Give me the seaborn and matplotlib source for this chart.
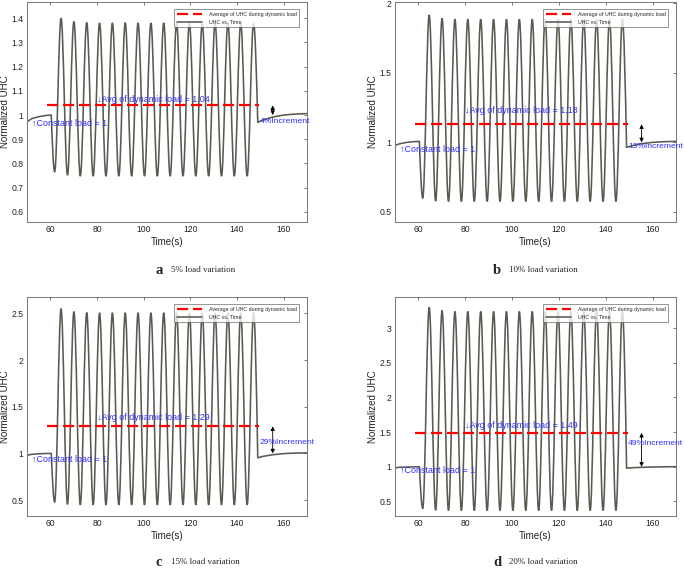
import pandas as pd
import seaborn as sns
import matplotlib.pyplot as plt
from matplotlib.path import Path
from matplotlib.patches import PathPatch
from matplotlib.ticker import FuncFormatter

# valores (UHC normalizado frente al tiempo)
peak_times = [64.6, 70.1, 75.6, 81.1, 86.6, 92.1, 97.6, 103.1, 108.6, 114.1, 119.6, 125.1, 130.6, 136.1, 141.6, 147.1]
trough_times = [61.85, 67.35, 72.85, 78.35, 83.85, 89.35, 94.85, 100.35, 105.85, 111.35, 116.85, 122.35, 127.85, 133.35, 138.85, 144.35]
pre_times = [50, 52, 55, 58, 60.4]
post_times = [148.9, 151, 155, 160, 165, 170]
avg_span = [58.7, 149.3]

# a: 5%
pre_a = [0.972, 0.985, 0.993, 0.998, 1.0]
peaks_a = [1.400, 1.386, 1.382, 1.380, 1.380, 1.381, 1.380, 1.380, 1.380, 1.381, 1.380, 1.380, 1.380, 1.380, 1.380, 1.380]
troughs_a = [0.766, 0.752, 0.748, 0.748, 0.748, 0.748, 0.748, 0.748, 0.748, 0.748, 0.748, 0.748, 0.748, 0.748, 0.748, 0.748]
post_a = [0.970, 0.979, 0.991, 1.000, 1.004, 1.006]
avg_a = 1.04

# b: 10%
pre_b = [0.978, 0.990, 1.000, 1.005, 1.007]
peaks_b = [1.916, 1.892, 1.886, 1.885, 1.885, 1.885, 1.885, 1.885, 1.885, 1.885, 1.885, 1.885, 1.885, 1.885, 1.885, 1.885]
troughs_b = [0.600, 0.578, 0.575, 0.575, 0.575, 0.575, 0.575, 0.575, 0.575, 0.575, 0.575, 0.575, 0.575, 0.575, 0.575, 0.575]
post_b = [0.964, 0.975, 0.990, 1.000, 1.005, 1.007]
avg_b = 1.13

# c: 15%
pre_c = [0.980, 0.990, 0.996, 0.999, 1.0]
peaks_c = [2.550, 2.518, 2.508, 2.505, 2.505, 2.505, 2.505, 2.505, 2.505, 2.505, 2.505, 2.505, 2.505, 2.505, 2.505, 2.505]
troughs_c = [0.480, 0.455, 0.450, 0.450, 0.450, 0.450, 0.450, 0.450, 0.450, 0.450, 0.450, 0.450, 0.450, 0.450, 0.450, 0.450]
post_c = [0.953, 0.968, 0.985, 0.998, 1.004, 1.006]
avg_c = 1.29

# d: 20%
pre_d = [0.985, 0.993, 0.997, 0.999, 1.0]
peaks_d = [3.300, 3.255, 3.240, 3.240, 3.240, 3.240, 3.240, 3.240, 3.240, 3.240, 3.240, 3.240, 3.240, 3.240, 3.240, 3.240]
troughs_d = [0.400, 0.375, 0.370, 0.370, 0.370, 0.370, 0.370, 0.370, 0.370, 0.370, 0.370, 0.370, 0.370, 0.370, 0.370, 0.370]
post_d = [0.980, 0.986, 0.992, 0.997, 1.000, 1.002]
avg_d = 1.49

avg_labels = ['1.04', '1.18', '1.29', '1.49']
incr_labels = ['4%Increment', '13%Increment', '29%Increment', '49%Increment']
captions = ['5% load variation', '10% load variation', '15% load variation', '20% load variation']
letters = ['a', 'b', 'c', 'd']

line_color = '#5a5a50'
blue = '#3030ff'

sns.set_theme(style='white')
plt.rcParams['font.family'] = ['Liberation Sans', 'DejaVu Sans']


def uhc_path(start, troughs, peaks, end):
    ext = sorted(list(zip(trough_times, troughs)) + list(zip(peak_times, peaks)))
    verts = [start]
    t0, y0 = start
    t1, y1 = ext[0]
    dt = t1 - t0
    verts += [(t0 + 0.326 * dt, y0 + 0.512 * (y1 - y0)), (t0 + 0.64 * dt, y1), (t1, y1)]
    for (t0, y0), (t1, y1) in zip(ext[:-1], ext[1:]):
        dt = t1 - t0
        verts += [(t0 + 0.363 * dt, y0), (t1 - 0.363 * dt, y1), (t1, y1)]
    t0, y0 = ext[-1]
    t1, y1 = end
    dt = t1 - t0
    verts += [(t0 + 0.36 * dt, y0), (t0 + 0.674 * dt, y1 + 0.512 * (y0 - y1)), (t1, y1)]
    codes = [Path.MOVETO] + [Path.CURVE4] * (len(verts) - 1)
    return Path(verts, codes)


panels = [
    (pre_a, peaks_a, troughs_a, post_a, avg_a),
    (pre_b, peaks_b, troughs_b, post_b, avg_b),
    (pre_c, peaks_c, troughs_c, post_c, avg_c),
    (pre_d, peaks_d, troughs_d, post_d, avg_d),
]

# layout (fracciones de figura) y ejes
rects = [
    [27 / 685, 350 / 572, 280 / 685, 220 / 572],
    [395 / 685, 350 / 572, 281 / 685, 220 / 572],
    [27 / 685, 56 / 572, 280 / 685, 219 / 572],
    [395 / 685, 56 / 572, 281 / 685, 219 / 572],
]
ylims = [(0.558, 1.467), (0.427, 2.01), (0.33, 2.675), (0.29, 3.45)]
yticks = [
    [0.6, 0.7, 0.8, 0.9, 1.0, 1.1, 1.2, 1.3, 1.4],
    [0.5, 1.0, 1.5, 2.0],
    [0.5, 1.0, 1.5, 2.0, 2.5],
    [0.5, 1.0, 1.5, 2.0, 2.5, 3.0],
]
# posiciones de textos: (avg_y, const_y, incr_y)
text_y = [(1.065, 0.966, 0.975), (1.228, 0.95, 0.97), (1.38, 0.935, 1.12), (1.60, 0.95, 1.33)]
caption_pos = [(155, 270), (493, 270), (155, 562), (493, 562)]

fig = plt.figure(figsize=(6.85, 5.72), dpi=100)

for i, (pre, peaks, troughs, post, avg) in enumerate(panels):
    ax = fig.add_axes(rects[i])
    df_pre = pd.DataFrame({'t': pre_times, 'y': pre})
    df_post = pd.DataFrame({'t': post_times, 'y': post})
    df_avg = pd.DataFrame({'t': avg_span, 'y': [avg, avg]})

    sns.lineplot(data=df_pre, x='t', y='y', ax=ax, color=line_color, lw=1.15)
    sns.lineplot(data=df_post, x='t', y='y', ax=ax, color=line_color, lw=1.15)
    ax.add_patch(PathPatch(uhc_path((pre_times[-1], pre[-1]), troughs, peaks, (post_times[0], post[0])),
                           facecolor='none', edgecolor=line_color, lw=1.15))
    sns.lineplot(data=df_avg, x='t', y='y', ax=ax, color='red', lw=1.6, dashes=False)
    avg_line = ax.get_lines()[-1]
    avg_line.set_dashes((5.0, 2.2))
    uhc_line = ax.get_lines()[0]

    ax.set_xlim(50, 170)
    ax.set_ylim(*ylims[i])
    ax.set_xticks([60, 80, 100, 120, 140, 160])
    ax.set_yticks(yticks[i])
    ax.yaxis.set_major_formatter(FuncFormatter(lambda v, _: f'{v:g}'))
    ax.tick_params(direction='in', length=2.5, width=0.5, labelsize=6.2, pad=2.5,
                   top=True, right=True, colors='#444444', labelcolor='#222222')
    for s in ax.spines.values():
        s.set_color('#777777')
        s.set_linewidth(0.7)
    ax.set_xlabel('Time(s)', fontsize=7, labelpad=2, color='#222222')
    ax.set_ylabel('Normalized UHC', fontsize=7, labelpad=1, color='#222222')

    ay, cy, iy = text_y[i]
    ax.text(80, ay, '\u2193Avg of dynamic load = ' + avg_labels[i], color=blue, fontsize=6.4, va='center')
    ax.text(52.3, cy, '\u2191Constant load = 1', color=blue, fontsize=6.4, va='center')
    ax.annotate('', xy=(155.3, avg), xytext=(155.3, 1.0),
                arrowprops=dict(arrowstyle='<|-|>', color='black', lw=0.6, mutation_scale=6,
                                shrinkA=0, shrinkB=0))
    ax.text(149.6, iy, incr_labels[i], color=blue, fontsize=6.1, va='center')

    ax.legend([avg_line, uhc_line], ['Average of UHC during dynamic load', 'UHC vs. Time'],
              loc='upper right', bbox_to_anchor=(0.972, 0.966), fontsize=3.8,
              handlelength=4.8, frameon=True, fancybox=False, edgecolor='#444444',
              borderpad=0.5, labelspacing=0.5, handletextpad=1.2, borderaxespad=0)
    ax.get_legend().get_frame().set_linewidth(0.5)

    cx, cy_px = caption_pos[i]
    fig.text(cx / 685, 1 - cy_px / 572, letters[i], fontsize=10.5, fontweight='bold',
             family='Liberation Serif', va='center')
    fig.text((cx + 16) / 685, 1 - cy_px / 572, captions[i], fontsize=6.5,
             family='Liberation Serif', va='center')

plt.savefig('out.png', dpi=100)
